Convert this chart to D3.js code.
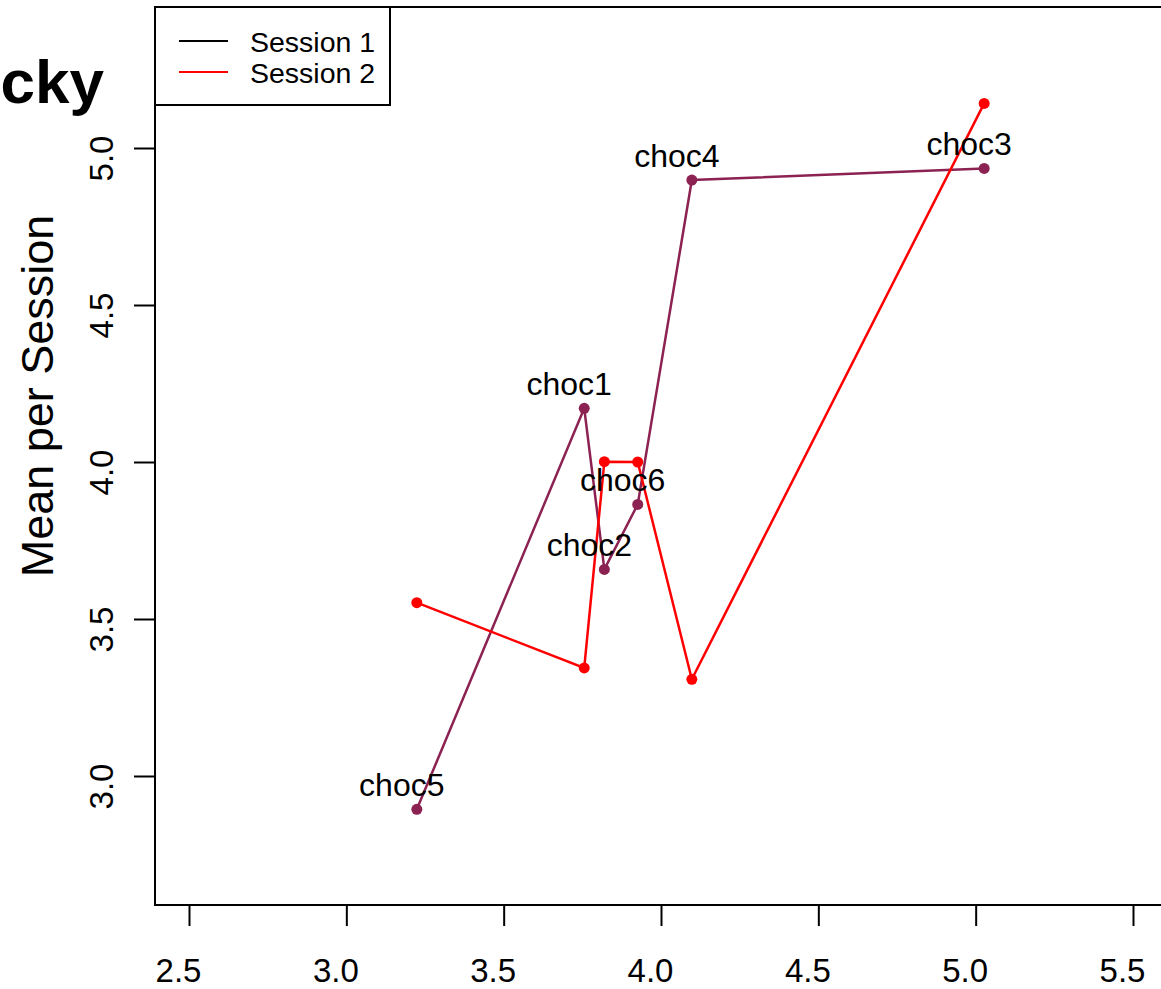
<!DOCTYPE html>
<html>
<head>
<meta charset="utf-8">
<script src="https://cdn.jsdelivr.net/npm/d3@7"></script>
<style>
  body { margin: 0; background: #fff; }
  svg { display: block; font-family: "Liberation Sans", Arial, Helvetica, sans-serif; }
</style>
</head>
<body>
<svg id="chart" width="1161" height="989"></svg>
<script>
// products, in the order the lines join them
const products = ["choc5", "choc1", "choc2", "choc6", "choc4", "choc3"];
// overall mean (x axis)
const overallMean = [3.224, 3.756, 3.820, 3.926, 4.098, 5.027];
// mean per session (y axis)
const session1 = [2.894, 4.171, 3.658, 3.865, 4.898, 4.935];
const session2 = [3.552, 3.344, 4.001, 4.000, 3.308, 5.142];
const xTicks = [2.5, 3.0, 3.5, 4.0, 4.5, 5.0, 5.5];
const yTicks = [3.0, 3.5, 4.0, 4.5, 5.0];
const legendLabels = ["Session 1", "Session 2"];

const svg = d3.select("#chart");

// plot region (right edge of the frame is cut off by the window)
const box = { left: 155, top: 7, bottom: 905, right: 1175 };

const x = d3.scaleLinear().domain([2.5, 5.5]).range([189, 1133]);
const y = d3.scaleLinear().domain([3, 5]).range([776, 148]);

//frame
svg.append("rect")
  .attr("x", box.left).attr("y", box.top)
  .attr("width", box.right - box.left).attr("height", box.bottom - box.top)
  .attr("fill", "none").attr("stroke", "#000").attr("stroke-width", 2);

//x axis
const xAxis = svg.append("g")
  .attr("transform", `translate(0,${box.bottom})`)
  .call(d3.axisBottom(x).tickValues(xTicks).tickSize(21).tickPadding(33).tickFormat(d3.format(".1f")));
xAxis.select(".domain").remove();
xAxis.selectAll("line").attr("stroke-width", 2);
xAxis.selectAll("text")
  .attr("font-size", 33)
  .attr("font-family", "Liberation Sans, Arial, sans-serif")
  .attr("x", -11);

//y axis
const yAxis = svg.append("g")
  .attr("transform", `translate(${box.left},0)`)
  .call(d3.axisLeft(y).tickValues(yTicks).tickSize(21).tickFormat(d3.format(".1f")));
yAxis.select(".domain").remove();
yAxis.selectAll("line").attr("stroke-width", 2);
yAxis.selectAll("text")
  .attr("font-size", 33)
  .attr("font-family", "Liberation Sans, Arial, sans-serif")
  .attr("text-anchor", "middle")
  .attr("dy", null)
  .attr("x", 0)
  .attr("transform", "translate(-42,10) rotate(-90)");

//y axis title
svg.append("text")
  .attr("transform", "translate(53,396) rotate(-90)")
  .attr("text-anchor", "middle")
  .attr("font-size", 45)
  .text("Mean per Session");

//title (cut off at the left)
svg.append("text")
  .attr("x", 104).attr("y", 103)
  .attr("text-anchor", "end")
  .attr("font-size", 62)
  .attr("font-weight", "bold")
  .text("cky");

const line = d3.line();

function drawSeries(values, color) {
  const pts = values.map((v, i) => [x(overallMean[i]), y(v)]);
  svg.append("path")
    .attr("d", line(pts))
    .attr("fill", "none")
    .attr("stroke", color)
    .attr("stroke-width", 2.5);
  svg.append("g").selectAll("circle")
    .data(pts)
    .join("circle")
    .attr("cx", d => d[0]).attr("cy", d => d[1])
    .attr("r", 5.5)
    .attr("fill", color);
}

drawSeries(session1, "#8B2252");
drawSeries(session2, "#FF0000");

//product labels above the session 1 points
svg.append("g").selectAll("text")
  .data(products)
  .join("text")
  .attr("x", (d, i) => x(overallMean[i]) - 15)
  .attr("y", (d, i) => y(session1[i]) - 13)
  .attr("text-anchor", "middle")
  .attr("font-size", 32)
  .text(d => d);

//legend
const legend = svg.append("g");
legend.append("rect")
  .attr("x", 155).attr("y", 7).attr("width", 235).attr("height", 98)
  .attr("fill", "#fff").attr("stroke", "#000").attr("stroke-width", 2);
const legendColors = ["#000", "#FF0000"];
legendLabels.forEach((lab, i) => {
  const ly = 41 + i * 31;
  legend.append("line")
    .attr("x1", 179).attr("x2", 228).attr("y1", ly).attr("y2", ly)
    .attr("stroke", legendColors[i]).attr("stroke-width", 2);
  legend.append("text")
    .attr("x", 250).attr("y", ly + 11)
    .attr("font-size", 28.5)
    .text(lab);
});
</script>
</body>
</html>
